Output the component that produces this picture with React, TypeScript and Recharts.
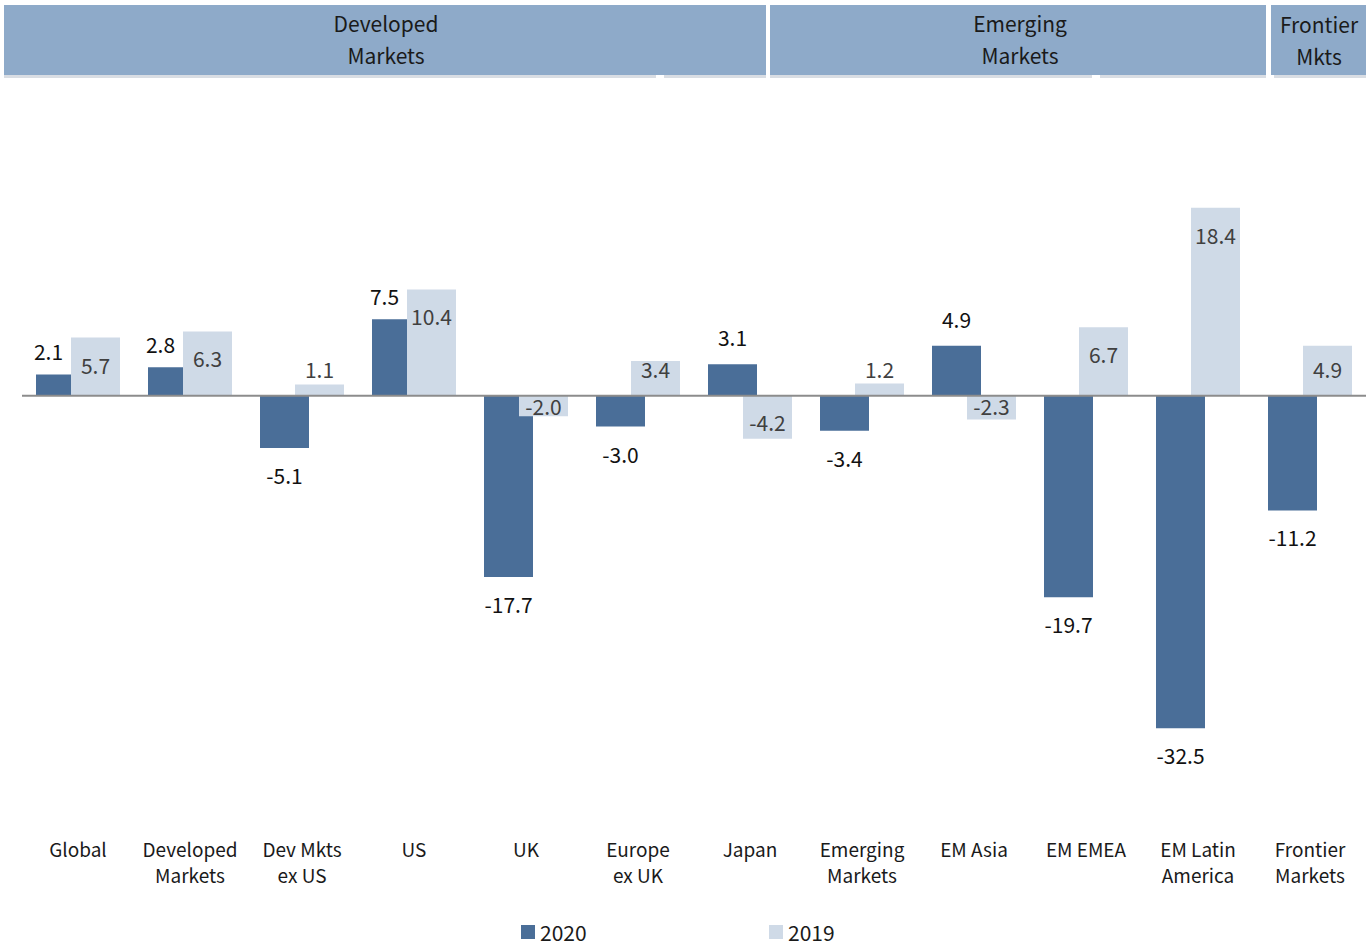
import React from "react";
import { BarChart, Bar, XAxis, YAxis, ReferenceLine, LabelList } from "recharts";

// Market categories (tick labels use "\n" for the second line)
const categories = [
  "Global",
  "Developed\nMarkets",
  "Dev Mkts\nex US",
  "US",
  "UK",
  "Europe\nex UK",
  "Japan",
  "Emerging\nMarkets",
  "EM Asia",
  "EM EMEA",
  "EM Latin\nAmerica",
  "Frontier\nMarkets",
];

const values2020 = [2.1, 2.8, -5.1, 7.5, -17.7, -3.0, 3.1, -3.4, 4.9, -19.7, -32.5, -11.2];
const values2019 = [5.7, 6.3, 1.1, 10.4, -2.0, 3.4, -4.2, 1.2, -2.3, 6.7, 18.4, 4.9];

const seriesNames = ["2020", "2019"];
const groupHeaders = [
  ["Developed", "Markets"],
  ["Emerging", "Markets"],
  ["Frontier", "Mkts"],
];

const data = categories.map((name, i) => ({
  name,
  y2020: values2020[i],
  y2019: values2019[i],
}));

const DARK = "#4a6e98";
const LIGHT = "#cfdae7";
const BAND = "#8eaac9";
const FONT = "'Noto Sans CJK SC', 'Noto Sans', sans-serif";
const BAR_SIZE = 49;
const OVERLAP = 14;

const fmt = (v: number) => v.toFixed(1);

const CategoryTick = (props: any) => {
  const { x, y, payload } = props;
  const lines = String(payload.value).split("\n");
  return (
    <g>
      {lines.map((line, i) => (
        <text
          key={i}
          x={x}
          y={y + 43 + i * 26}
          textAnchor="middle"
          dominantBaseline="central"
          fontFamily={FONT}
          fontSize={19}
          fill="#1a1a1a"
        >
          {line}
        </text>
      ))}
    </g>
  );
};

const Label2020 = (props: any) => {
  const { x, y, width, height, value, index } = props;
  const top = Math.min(y, y + height);
  const bottom = Math.max(y, y + height);
  const other = values2019[index];
  let cx = x + width / 2;
  let cy: number;
  if (value >= 0) {
    if (other >= value) {
      // keep clear of the taller 2019 bar beside it
      cx = x + (width - OVERLAP) / 2 - 5;
      cy = top - 23;
    } else {
      cy = top - 27;
    }
  } else {
    cy = bottom + 27;
  }
  return (
    <text x={cx} y={cy} textAnchor="middle" dominantBaseline="central" fontFamily={FONT} fontSize={21} fill="#111">
      {fmt(value)}
    </text>
  );
};

const Label2019 = (props: any) => {
  const { x, y, width, height, value } = props;
  const top = Math.min(y, y + height);
  const bottom = Math.max(y, y + height);
  const cx = x + width / 2;
  const cy = value >= 0 ? Math.min(top + 27, 369) : Math.max(bottom - 17, 406);
  return (
    <text x={cx} y={cy} textAnchor="middle" dominantBaseline="central" fontFamily={FONT} fontSize={21} fill="#404040">
      {fmt(value)}
    </text>
  );
};

const headerBoxes = [
  { left: 4, width: 762, cx: 386, gap: 656 },
  { left: 770, width: 496, cx: 1020, gap: 1092 },
  { left: 1271, width: 95, cx: 1319, gap: null as number | null },
];

const Header = () => (
  <>
    {headerBoxes.map((b, i) => (
      <React.Fragment key={i}>
        <div
          style={{
            position: "absolute",
            left: b.left,
            top: 5,
            width: b.width,
            height: 70,
            background: BAND,
          }}
        />
        {b.gap === null ? (
          <div style={{ position: "absolute", left: b.left + 3, top: 75, width: b.width - 3, height: 3, background: "#d9dde3" }} />
        ) : (
          <>
            <div style={{ position: "absolute", left: b.left, top: 75, width: b.gap - b.left, height: 3, background: "#d9dde3" }} />
            <div
              style={{
                position: "absolute",
                left: b.gap + 8,
                top: 75,
                width: b.left + b.width - b.gap - 8,
                height: 3,
                background: "#d9dde3",
              }}
            />
          </>
        )}
        {groupHeaders[i].map((line, j) => (
          <div
            key={j}
            style={{
              position: "absolute",
              left: b.cx - 100,
              width: 200,
              top: (i === 2 ? 24 : 23) + j * 32 - 14,
              height: 28,
              lineHeight: "28px",
              textAlign: "center",
              fontFamily: FONT,
              fontSize: 21,
              color: "#1a1a1a",
            }}
          >
            {line}
          </div>
        ))}
      </React.Fragment>
    ))}
  </>
);

const Legend = () => (
  <>
    {[
      { left: 521, color: DARK },
      { left: 769, color: LIGHT },
    ].map((item, i) => (
      <React.Fragment key={i}>
        <div style={{ position: "absolute", left: item.left, top: 925, width: 14, height: 14, background: item.color }} />
        <div
          style={{
            position: "absolute",
            left: item.left + 19,
            top: 923,
            height: 18,
            lineHeight: "18px",
            fontFamily: FONT,
            fontSize: 21,
            color: "#1a1a1a",
          }}
        >
          {seriesNames[i]}
        </div>
      </React.Fragment>
    ))}
  </>
);

export default function App() {
  return (
    <div style={{ position: "absolute", left: 0, top: 0, width: 1369, height: 943, background: "#fff", overflow: "hidden" }}>
      <Header />
      <BarChart
        width={1369}
        height={943}
        data={data}
        margin={{ top: 89, right: 3, bottom: 78, left: 22 }}
        barSize={BAR_SIZE}
        barGap={-OVERLAP}
        style={{ position: "absolute", left: 0, top: 0 }}
      >
        <XAxis
          dataKey="name"
          interval={0}
          tickLine={false}
          axisLine={false}
          tickSize={0}
          tickMargin={0}
          height={60}
          tick={<CategoryTick />}
        />
        <YAxis hide domain={[-40, 30]} type="number" allowDataOverflow />
        <Bar dataKey="y2020" name={seriesNames[0]} fill={DARK} isAnimationActive={false}>
          <LabelList dataKey="y2020" content={<Label2020 />} />
        </Bar>
        <Bar dataKey="y2019" name={seriesNames[1]} fill={LIGHT} isAnimationActive={false}>
          <LabelList dataKey="y2019" content={<Label2019 />} />
        </Bar>
        <ReferenceLine y={0} stroke="#8c8c8c" strokeWidth={2} />
      </BarChart>
      <Legend />
    </div>
  );
}
